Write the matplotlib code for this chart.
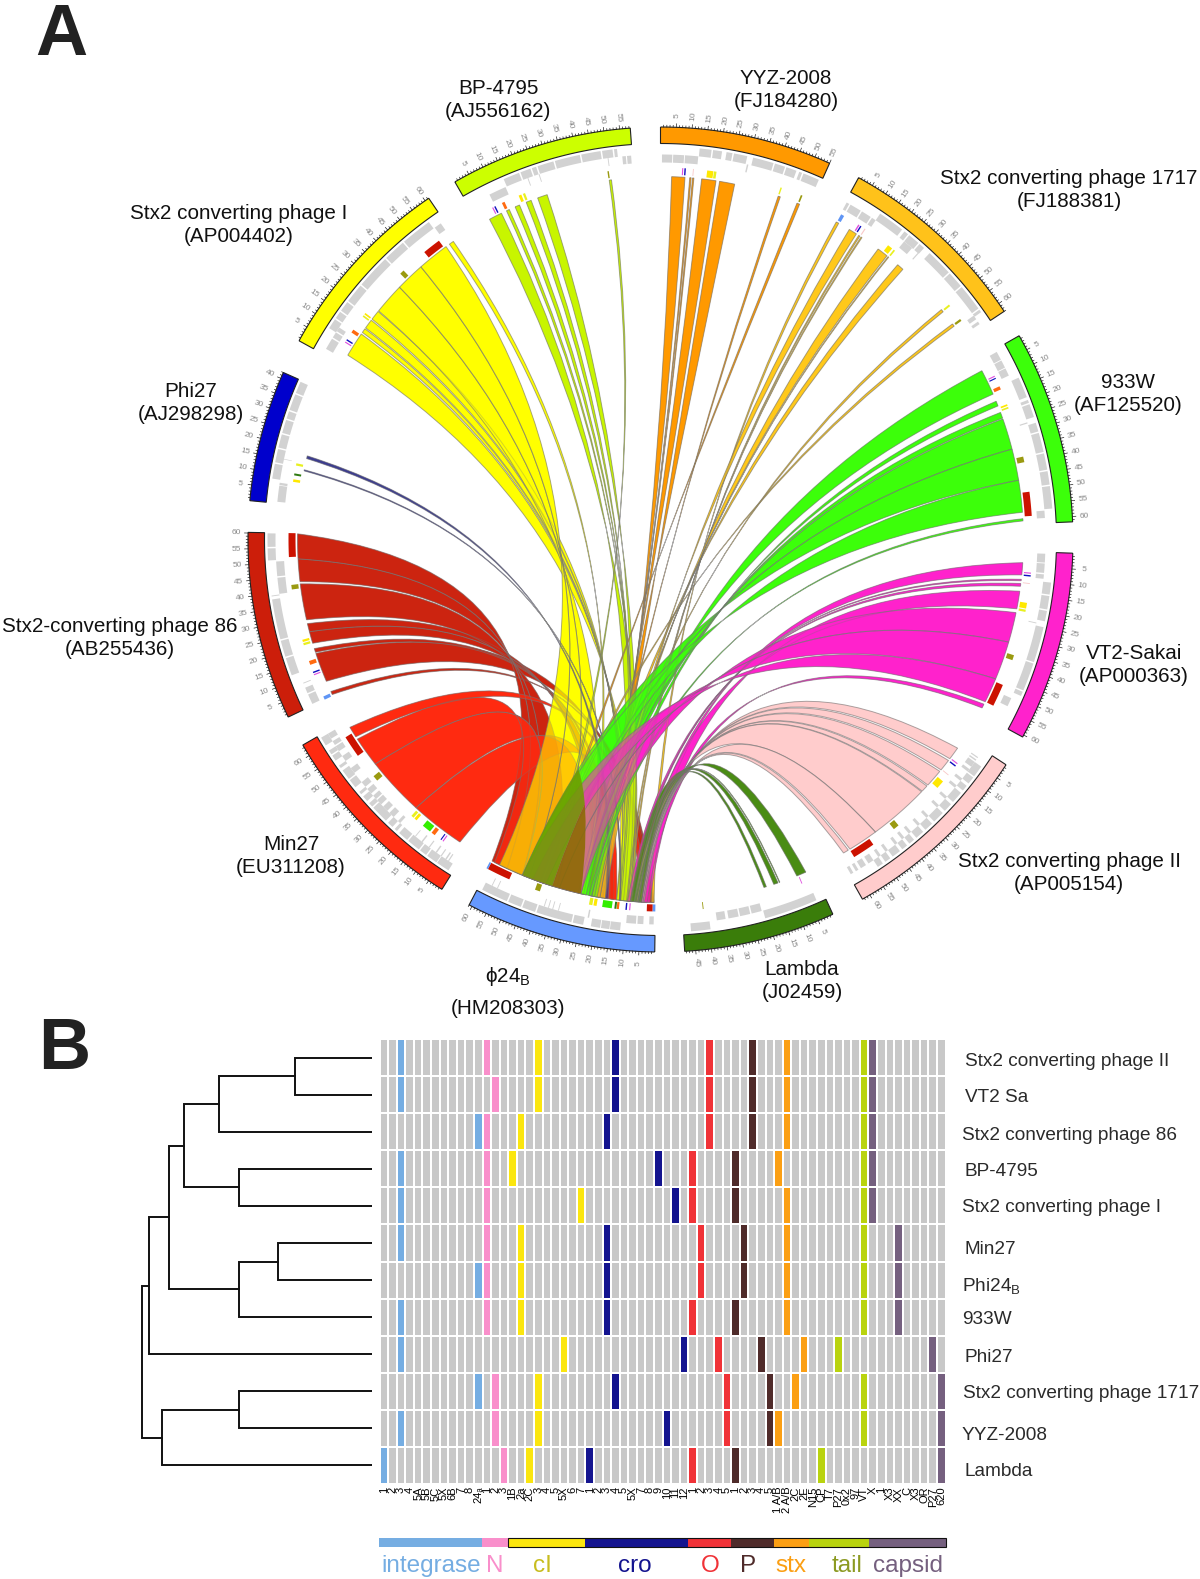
import numpy as np
import matplotlib
matplotlib.use("Agg")
import matplotlib.pyplot as plt
from matplotlib.path import Path
from matplotlib.patches import PathPatch, Rectangle
from matplotlib.colors import ListedColormap, to_rgba

plt.rcParams['font.family'] = ['Liberation Sans', 'DejaVu Sans']
plt.rcParams['mathtext.fontset'] = 'custom'
plt.rcParams['mathtext.rm'] = 'Liberation Sans'
plt.rcParams['mathtext.it'] = 'DejaVu Sans:italic'

# ---------- panel A data: genome sizes (kb) ----------
phages = ['YYZ', '1717', '933W', 'VT2', 'II', 'Lambda', 'Phi24', 'Min27', '86', 'Phi27', 'I', 'BP']
genome_kb = [55, 63, 61.7, 60.7, 62.7, 48.5, 61, 63.9, 60.2, 42, 61.4, 58.4]
ring_colors = ['#ff9900', '#ffc21a', '#3cff0a', '#ff22cc', '#ffcccc', '#3a7d0a',
               '#6699ff', '#ff2a10', '#cc1e0a', '#0000cc', '#ffff00', '#ccff00']
link_colors = ['#ff9900', '#ffc81a', '#3cff0a', '#ff22cc', '#ffcccc', '#4a8c14',
               '#6699ff', '#ff2a10', '#cc2410', '#3a3a90', '#ffff00', '#c8f500']

# genes on the outer and inner gray rows (kb)
genes_outer = {
 'YYZ': [(13,17),(17.5,20.5),(22,24),(24.5,29),(31,38),(38.5,42),(42.5,46),(47,48),(48.5,54)],
 '1717': [(12,21),(22,23.5),(24,28),(28.5,30.5),(33,42),(42.5,48),(48.5,57.5),(58,59)],
 '933W': [(12,19),(20,21),(21.5,26),(28,31),(31.5,38),(38.5,44),(44.5,49),(49.5,57)],
 'VT2': [(10,14),(14.5,19),(19.5,23),(25,37),(37.5,47),(47.5,49)],
 'II': [(5,9),(9.5,12),(13,15),(16,20),(21,24),(25,29),(30,33),(34,37),(38,40),(41,43),(44,47),(48,50),(51,53)],
 'Lambda': [(3,21),(39.5,46)],
 'Phi24': [(11.6,15),(15.2,18),(18.3,21.4),(24,27.5),(28,40),(40.5,45),(45.5,50),(50.5,59.5)],
 'Min27': [(1.5,6),(6.3,10),(10.5,13),(13.5,18),(18.5,22),(23,24),(25,27),(28,34),(34.5,36),(37,39),(40,41),(43,46),(46.5,50),(51,52),(54,56),(56.5,58),(60,63)],
 '86': [(12,18),(18.5,24),(24.5,38),(39,39.3),(51,55),(55.5,60)],
 'Phi27': [(8,13),(13.5,18),(18.5,23),(23.5,28),(28.5,31),(31.5,37),(37.5,41.5)],
 'I': [(8.5,12),(12.5,15),(15.5,19),(19.5,26),(26.5,38),(38.5,46),(46.5,57)],
 'BP': [(14.5,20),(20.5,24),(24.5,26),(26.5,32),(32.5,41),(41.5,48),(48.5,52),(52.5,53.5)],
}
genes_inner = {
 'YYZ': [(0.5,4),(4.3,8),(8.3,12.8),(29.5,30)],
 '1717': [(0.5,1.5),(2,6),(6.5,10),(10.5,12),(24,27.5),(30,30.4),(58.5,60),(61,62)],
 '933W': [(1,4),(4.3,7),(7.3,10),(27,27.4),(57.5,60)],
 'VT2': [(0.5,3.5),(3.8,7),(7.5,9),(24,24.3),(51,54)],
 'II': [(3,3.4),(4,4.5),(5,7),(8,9),(12,13),(15,16),(20,21),(24,25),(29,30),(33,34),(37,38),(40,41),(43,44),(47,48),(50,51),(53,55),(56,58),(59,60),(61,62)],
 'Lambda': [(21.5,25),(25.5,29),(29.5,33),(34,37)],
 'Phi24': [(0.5,2),(4,6),(6.5,9.8),(22.5,23),(33,33.3),(35,35.3),(36.5,36.8),(38,38.3),(55,55.3),(57,57.3)],
 'Min27': [(3,3.4),(4,4.5),(6,6.4),(8,8.5),(11,11.4),(14,14.5),(17,17.3),(24,25),(27,29),(30,32),(33,35),(35.5,37),(38,40),(41,43),(47,49),(52,54),(56,58),(58.5,60),(61,63)],
 '86': [(0.5,4),(4.5,6.5),(8,8.3),(39.5,45),(45.5,50.5)],
 'Phi27': [(0.5,6),(6.2,7),(15,15.2)],
 'I': [(2,6),(6.5,8.5),(9,10.5),(57.5,60)],
 'BP': [(8,14),(22,22.3),(26,26.3),(50,50.3),(55,56.2),(56.6,58)],
}

# gene markers (start kb, end kb, colour key)
marker_colors = {'int':'#5f95f5', 'N':'#e04fe0', 'cI':'#ffe800', 'cro':'#1010c0', 'O':'#ff6a10',
                 'tail':'#9a9a10', 'stx':'#cc1200', 'pale':'#f8c8c8', 'cI2':'#e8f020',
                 'grn':'#33ee00', 'dgr':'#2f7a10'}
markers = {
 'YYZ': [(7.6,8,'N'),(8.4,8.9,'cro'),(11.4,11.7,'pale'),(16.4,18.6,'cI'),(18.8,19.7,'cI2'),(42.8,43.3,'cI2'),(50.4,51,'tail')],
 '1717': [(0.8,2,'int'),(7.8,8.3,'N'),(8.6,9.1,'cro'),(10.4,10.8,'pale'),(20.5,22.3,'cI'),(23,23.6,'cI2'),(50.3,51,'cI2'),(56.7,57.5,'tail')],
 '933W': [(7.9,8.3,'N'),(8.7,9.1,'cro'),(12,13.2,'O'),(18.8,19.4,'cI'),(19.8,20.4,'cI2'),(38,40,'tail'),(50.5,59,'stx')],
 'VT2': [(7.3,7.7,'N'),(8.2,8.7,'cro'),(11,11.3,'pale'),(18,20,'cI'),(20.4,21.2,'cI2'),(36.9,38.7,'tail'),(48,56,'stx')],
 'II': [(8.8,9.2,'N'),(9.8,10.3,'cro'),(13.9,14.2,'pale'),(17,20,'cI'),(38.9,41,'tail'),(50,58,'stx')],
 'Lambda': [(5.2,5.5,'N'),(41,41.3,'tail')],
 'Phi24': [(0,1,'int'),(1,3,'stx'),(8.8,9.2,'N'),(10,10.5,'cro'),(12.8,13.6,'O'),(13.7,14.4,'dgr'),(15.3,18.7,'grn'),(20.7,21.8,'cI'),(22.2,23.4,'cI2'),(41.2,43,'tail'),(52.7,61,'stx'),(61,61.6,'int')],
 'Min27': [(8.4,8.8,'N'),(9.3,9.7,'cro'),(12.2,13.6,'O'),(14.3,17.5,'grn'),(20.4,21.4,'cI'),(21.8,22.8,'cI2'),(40,42,'tail'),(51,58.8,'stx')],
 '86': [(0.0,1.2,'int'),(9.3,9.7,'N'),(10.1,10.6,'cro'),(13.2,14.6,'O'),(20.4,21.2,'cI2'),(21.6,22.4,'cI'),(40.4,42,'tail'),(51.8,60.2,'stx')],
 'Phi27': [(8,8.9,'cI'),(10.3,11,'dgr'),(13.8,14.6,'cI2')],
 'I': [(7.2,7.6,'N'),(8.1,8.6,'cro'),(11.4,12.6,'O'),(18.2,18.8,'cI2'),(19.2,19.8,'cI'),(38.2,39.8,'tail'),(49.5,56,'stx')],
 'BP': [(6.8,7.2,'N'),(7.6,8.1,'cro'),(10.6,11.6,'O'),(17,18,'cI'),(18.6,19.4,'cI2'),(49.3,49.8,'tail')],
}

# links: (phage start, phage end, Phi24 start, Phi24 end) in kb
links = {
 '86': [(0.5,1.7,0.5,1.7),(5.7,16.4,1,4.5),(16.8,18.2,15,16.4),(20.2,24.5,18,22),(24.5,27.5,22,24),
        (28.9,42,37,49),(42.8,51,49,55),(51,60,55,61)],
 'Min27': [(3.5,23.5,14,18),(23.5,45,27,49),(45,56,49,60),(57,61,3,5)],
 'I': [(3.9,12.9,8,11),(13.6,15.2,11,12),(15.6,19,12,13),(19.5,23,13,14),(23.3,34.6,25,36),(34.6,45.2,36,46.5),(45.2,56.8,46.5,58),(58.3,60,26,27)],
 'BP': [(4.1,8.9,8,14),(10.9,12,9,10),(14.3,16,10,11.5),(18.6,20.5,11.5,13),(23,26.6,9,12.5),(49.5,50.3,41,42)],
 'YYZ': [(4,8.8,18,19.5),(10.5,11,19.5,20),(11.5,12,20,20.5),(14.8,20,20.5,22),(21.3,26.8,19,23),(43,43.8,23,23.8),(50.2,51.2,41,42)],
 '1717': [(0.6,1.6,0.5,1.5),(6,9,18,20),(10,10.5,9,9.5),(11,11.4,10,10.4),(18.5,22.5,20,22),(23,23.3,22,22.3),(27.5,30,26,28),(50,51,22,23),(56.5,57.5,41,42)],
 '933W': [(4.3,13.6,23,27),(16.4,18.2,21,23),(20.7,22.9,25,27),(23.2,34.5,27,37.6),(34.5,45.9,37.6,49),(45.9,57.5,37.6,49),(59.8,60.6,23,24)],
 'VT2': [(4,8.4,4.5,7),(10,10.5,8.5,9),(11.5,12.5,9,10),(14.3,20.7,2,8),(22.1,33,27,35),(33,47,35,45),(47,56,40,49),(57,58.5,3,5)],
 'II': [(4.5,9.2,5,5.8),(10,14.3,5.8,6.4),(15,21.5,6.4,7),(22,24.5,7,7.3),(24.8,46.8,7.3,8),(46.8,57.8,4.5,5),(58.5,60.5,4,4.4)],
 'Lambda': [(2.5,6,5,8.5),(12.5,12.7,6,6.2),(13.2,14.8,7.5,9),(17.6,18.5,5,6)],
 'Phi27': [(17,18,17,18),(12.5,12.9,12.5,12.9)],
}
link_order = ['86', 'Min27', 'I', 'BP', 'YYZ', '1717', 'Phi27', '933W', 'VT2', 'II', 'Lambda']
# where two big ribbons overlap, the darker mixed colour: (phage, link index, phage, link index, colour)
overlaps = [('933W', 3, 'Min27', 1, '#8a6a00'), ('933W', 4, 'Min27', 1, '#6f9a00')]

labels_A = [('BP-4795\n(AJ556162)', 498, 100), ('YYZ-2008\n(FJ184280)', 786, 90),
            ('Stx2 converting phage 1717\n(FJ188381)', 1069, 190), ('933W\n(AF125520)', 1128, 394),
            ('VT2-Sakai\n(AP000363)', 1134, 665), ('Stx2 converting phage II\n(AP005154)', 1069, 873),
            ('Lambda\n(J02459)', 802, 981), ('Min27\n(EU311208)', 291, 856),
            ('Stx2-converting phage 86\n(AB255436)', 120, 638), ('Phi27\n(AJ298298)', 191, 403),
            ('Stx2 converting phage I\n(AP004402)', 239, 225)]

# ---------- panel B data ----------
row_names = ['Stx2 converting phage II', 'VT2 Sa', 'Stx2 converting phage 86', 'BP-4795',
             'Stx2 converting phage I', 'Min27', 'Phi24$_{\\mathrm{B}}$', '933W', 'Phi27',
             'Stx2 converting phage 1717', 'YYZ-2008', 'Lambda']
hits = [[2,12,18,27,38,43,47,56,57], [2,13,18,27,38,43,47,56,57], [11,12,16,26,38,43,47,56,57],
        [2,12,15,32,36,41,46,56,57], [2,12,23,34,36,41,47,56,57], [2,12,16,26,37,42,47,56,60],
        [11,12,16,26,37,42,47,56,60], [2,12,16,26,36,41,47,56,60], [2,21,35,39,44,49,53,64],
        [11,13,18,27,40,45,48,56,65], [2,13,18,33,40,45,46,56,65], [0,14,17,24,36,41,51,65]]
column_labels = ['1','2','3','4','5A','5B','5C','5X','6B','7','8','24\u2090',
                 '1','2','3',
                 '1B','2a','2C','3','4','5','5X','6','7',
                 '1','2','3','4','5','5X','7','8','9','10','11','12',
                 '1','2','3','4','5',
                 '1','2','3','4','5',
                 '1 A/B','2 A/B','2C','2E',
                 'N15','CP','T7','P27','0x2','97','VT',
                 'X','1','X3','XX','C','X3','OR','P27','620']
group_names = ['integrase','N','cI','cro','O','P','stx','tail','capsid']
group_edges = [0,12,15,24,36,41,46,50,57,66]
group_colors = ['#75ade2','#f98fcb','#fbe60f','#14148f','#f03237','#4f2b2a','#fb9f14','#b9d30f','#75607f']
group_text_colors = ['#75ade2','#f98fcb','#c8bd20','#14148f','#f03237','#4f2b2a','#fb9f14','#8c9a22','#75607f']
# dendrogram merges: (child a, child b, height); leaves are 0..11, merges continue from 12
merges = [(0,1,0.335),(12,2,0.667),(3,4,0.578),(13,14,0.816),(5,6,0.41),(16,7,0.578),
          (15,17,0.881),(18,8,0.968),(9,10,0.578),(20,11,0.913),(19,21,1.0)]

# ---------- layout ----------
W, H = 1200, 1579
CX, CY = 660.5, 539.5
R_OUT, R_IN = 412.5, 396
R_G1, R_G2, R_G3 = 393, 385, 377
R_M1, R_M0 = 372, 365
R_L = 363
DEG_PER_KB = 0.44
sector_start = [0, 28.7, 60.4, 91.9, 123.1, 155.3, 180.8, 212, 244.5, 275.4, 298.8, 330.1]

fig = plt.figure(figsize=(12, 15.79), dpi=100)
def rect(x0, y0, x1, y1):
    return [x0/W, 1-y1/H, (x1-x0)/W, (y1-y0)/H]

ax = fig.add_axes([0, 0, 1, 1])
ax.set_xlim(0, W); ax.set_ylim(H, 0); ax.axis('off')

def pol(theta, r):
    t = np.radians(theta)
    return CX + r*np.sin(t), CY - r*np.cos(t)
start = dict(zip(phages, sector_start))
length = dict(zip(phages, genome_kb))
def ang(p, kb):
    return start[p] + DEG_PER_KB*kb

def wedge(a0, a1, r0, r1, **kw):
    n = max(2, int(abs(a1-a0)/0.5)+2)
    t = np.linspace(a0, a1, n)
    xo, yo = pol(t, r1); xi, yi = pol(t[::-1], r0)
    verts = np.r_[np.c_[xo, yo], np.c_[xi, yi], [[xo[0], yo[0]]]]
    ax.add_patch(PathPatch(Path(verts), **kw))

for i, p in enumerate(phages):
    wedge(ang(p,0), ang(p,length[p]), R_IN, R_OUT, fc=ring_colors[i], ec='#222222', lw=0.8, zorder=3)
    for kb in np.arange(1, length[p]+0.01, 1):
        major = int(kb) % 5 == 0
        x, y = pol(ang(p,kb), np.array([R_OUT, R_OUT+(3.5 if major else 1.8)]))
        ax.plot(x, y, color='#222222', lw=0.5, zorder=3)
        if major:
            th = ang(p,kb) % 360
            rot = 90-th if th < 180 else 270-th
            lx, ly = pol(th, R_OUT+12)
            ax.text(lx, ly, str(int(kb)), fontsize=6, color='#8a8a8a', rotation=rot,
                    ha='center', va='center', rotation_mode='anchor', zorder=3)
    for a, b in genes_outer[p]:
        wedge(ang(p,a), ang(p,b), R_G2, R_G1, fc='#d2d2d2', ec='none', zorder=3)
    for a, b in genes_inner[p]:
        wedge(ang(p,a), ang(p,b), R_G3, R_G2, fc='#d2d2d2', ec='none', zorder=3)
    for a, b, c in markers[p]:
        wedge(ang(p,a), ang(p,b), R_M0, R_M1, fc=marker_colors[c], ec='none', zorder=3)

def ribbon(p, a, b, a2, b2):
    ta, tb = ang(p,a), ang(p,b)
    sa, sb = ang('Phi24',a2), ang('Phi24',b2)
    def control(t1, t2):
        v = np.array(pol(t1,1.0))+np.array(pol(t2,1.0))-2*np.array([CX,CY])
        mid = np.degrees(np.arctan2(v[0], -v[1]))
        d = abs((t1-t2+180) % 360-180)
        return pol(mid, max(0, 130-d))
    arc1 = np.linspace(ta, tb, 8)
    arc2 = np.linspace(sb, sa, 8)
    verts = [pol(t, R_L) for t in arc1]
    codes = [Path.MOVETO]+[Path.LINETO]*7
    verts += [control(tb, sb), pol(sb, R_L)]; codes += [Path.CURVE3]*2
    verts += [pol(t, R_L) for t in arc2[1:]]; codes += [Path.LINETO]*7
    verts += [control(sa, ta), pol(ta, R_L)]; codes += [Path.CURVE3]*2
    return Path(verts, codes)

# opaque pass keeps single ribbons saturated; the translucent pass mixes colours where they cross
z = 0.5
for p in link_order:
    col = link_colors[phages.index(p)]
    for lk in links[p]:
        ax.add_patch(PathPatch(ribbon(p, *lk), facecolor=col, edgecolor='none', zorder=z))
    z += 0.01
z = 1.0
for p in link_order:
    col = link_colors[phages.index(p)]
    for lk in links[p]:
        ax.add_patch(PathPatch(ribbon(p, *lk), facecolor=to_rgba(col, 0.5),
                               edgecolor=(0.45,0.45,0.45,0.6), lw=0.7, zorder=z))
    z += 0.05
    if p == 'VT2':
        for p1, i1, p2, i2, c in overlaps:
            patch = PathPatch(ribbon(p1, *links[p1][i1]), facecolor=to_rgba(c, 0.85), edgecolor='none', zorder=z)
            ax.add_patch(patch)
            patch.set_clip_path(PathPatch(ribbon(p2, *links[p2][i2]), transform=ax.transData))
        z += 0.05

for txt, x, y in labels_A:
    ax.text(x, y, txt, fontsize=14.9, ha='center', va='center', linespacing=1.33, color='#111111')
ax.text(508, 977, '$\\mathrm{\\phi 24_B}$', fontsize=14.9, ha='center', va='center', color='#111111')
ax.text(508, 1009, '(HM208303)', fontsize=14.9, ha='center', va='center', color='#111111')
ax.text(61, 55, 'A', fontsize=52, fontweight='bold', ha='center', va='baseline', color='#222222')
ax.text(64, 1069, 'B', fontsize=52, fontweight='bold', ha='center', va='baseline', color='#222222')

# ---------- heatmap ----------
HX0, HX1, HY0, HY1 = 379.6, 945.6, 1039, 1484
hax = fig.add_axes(rect(HX0, HY0, HX1, HY1))
n_rows, n_cols = len(hits), 66
mat = np.zeros((n_rows, n_cols), int)
for r, cols in enumerate(hits):
    for c in cols:
        mat[r, c] = np.searchsorted(group_edges, c, side='right')
cmap = ListedColormap(['#c8c8c8']+group_colors)
hax.pcolormesh(np.arange(n_cols+1), np.arange(n_rows+1), mat, cmap=cmap, vmin=0, vmax=9,
               edgecolors='white', linewidth=1.1)
hax.set_ylim(n_rows, 0); hax.set_xlim(0, n_cols)
for s in hax.spines.values():
    s.set_visible(False)
hax.set_yticks([])
hax.set_xticks(np.arange(n_cols)+0.5)
hax.set_xticklabels(column_labels, rotation=90, fontsize=8, color='black')
hax.tick_params(axis='x', length=0, pad=2)

# ---------- dendrogram ----------
dax = fig.add_axes(rect(120, HY0, 372, HY1))
dax.set_xlim(252/230, 0); dax.set_ylim(n_rows, 0); dax.axis('off')
nodes = {i: (0.0, i+0.5) for i in range(n_rows)}
for k, (a, b, h) in enumerate(merges):
    ha_, ya = nodes[a]; hb, yb = nodes[b]
    dax.plot([ha_, h, h, hb], [ya, ya, yb, yb], color='#111111', lw=1.4, solid_joinstyle='miter')
    nodes[n_rows+k] = (h, (ya+yb)/2)

# ---------- group bar ----------
bax = fig.add_axes(rect(378, 1537.7, 946, 1546.7))
bax.set_xlim(-0.17, 66.0); bax.set_ylim(0, 1); bax.axis('off')
for i in range(len(group_names)):
    bax.bar(group_edges[i], 1, width=group_edges[i+1]-group_edges[i], align='edge', color=group_colors[i])
bax.add_patch(Rectangle((15, 0), 51, 1, fc='none', ec='#111111', lw=0.8, clip_on=False))

for i, nm in enumerate(group_names):
    xc = [431,495,542,635,710,748,791,847,908][i]
    ax.text(xc, 1566, nm, fontsize=17.5, color=group_text_colors[i], ha='center', va='center')

row_x = [965,965,962,965,962,964,962,962,965,963,962,965]
row_y = [1061,1097,1136,1172,1208,1250,1287,1320,1358,1394,1435,1472]
for nm, x, y in zip(row_names, row_x, row_y):
    ax.text(x, y, nm, fontsize=13.7, color='#2a2a2a', ha='left', va='center')

fig.savefig('out.png', dpi=100)
